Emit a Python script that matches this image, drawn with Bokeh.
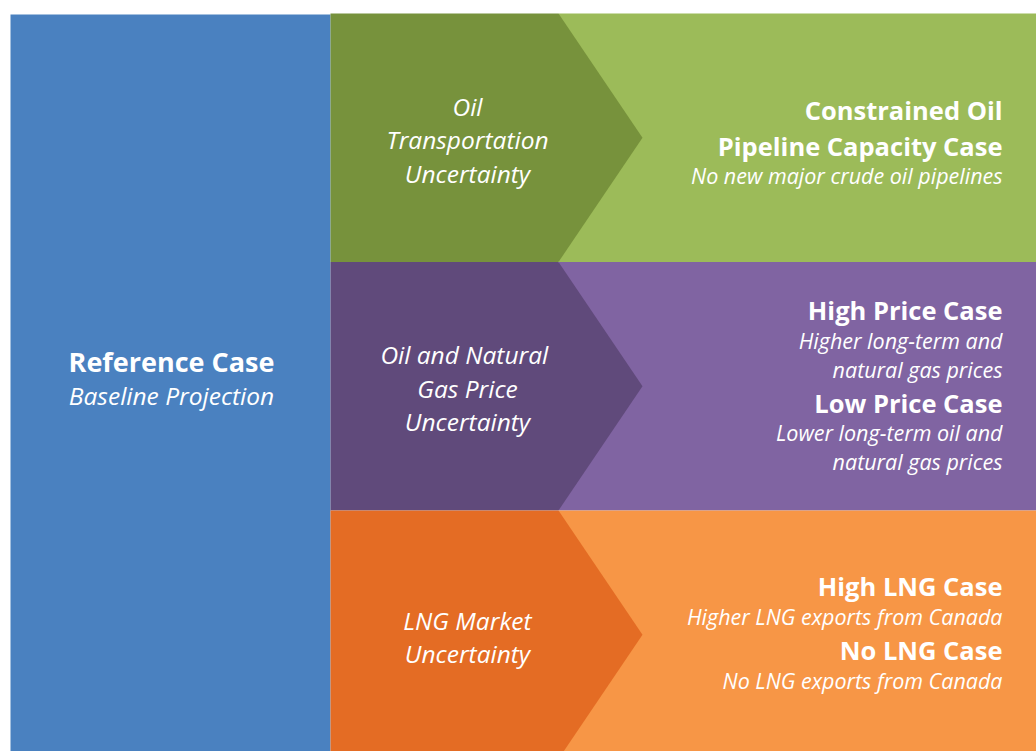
from bokeh.plotting import figure
from bokeh.models import Range1d
from bokeh.core.properties import value
from bokeh.embed import file_html
from bokeh.resources import INLINE

# ---- data ----
left_title = "Reference Case"
left_sub = "Baseline Projection"

uncertainties = [
    ["Oil", "Transportation", "Uncertainty"],
    ["Oil  and Natural", "Gas Price", "Uncertainty"],
    ["LNG Market", "Uncertainty"],
]

cases = [
    [("b", "Constrained Oil"), ("b", "Pipeline Capacity Case"), ("i", "No new major crude oil pipelines")],
    [("b", "High Price Case"), ("i", "Higher long-term and"), ("i", "natural gas prices"),
     ("b", "Low Price Case"), ("i", "Lower long-term oil and"), ("i", "natural gas prices")],
    [("b", "High LNG Case"), ("i", "Higher LNG exports from Canada"),
     ("b", "No LNG Case"), ("i", "No LNG exports from Canada")],
]

dark_colors = ["#77923C", "#604A7B", "#E46C24"]
light_colors = ["#9CBB59", "#8064A2", "#F79646"]
blue = "#4A81C0"

# ---- layout (pixel space) ----
W, H = 1036, 751
band_top = 13.0
band_h = 248.5
blue_x0, blue_x1, blue_y0 = 10, 330, 14
notch_x, tip_x = 558, 642
right_edge = 1040
text_right = 1002
mid_text_x = 467
left_text_x = 171

p = figure(width=W, height=H, output_backend="svg", toolbar_location=None,
           x_range=Range1d(0, W), y_range=Range1d(H, 0),
           min_border=0, outline_line_color=None, background_fill_color="white")
p.axis.visible = False
p.grid.visible = False

# left blue block
p.quad(left=[blue_x0], right=[blue_x1], top=[blue_y0], bottom=[band_top + 3 * band_h],
       fill_color=blue, line_color=None)

for i in range(3):
    top = band_top + i * band_h
    bot = top + band_h
    mid = top + band_h / 2
    p.quad(left=[notch_x], right=[right_edge], top=[top], bottom=[bot],
           fill_color=light_colors[i], line_color=None)
    p.patch([blue_x1, notch_x, tip_x, notch_x, blue_x1], [top, top, mid, bot, bot],
            fill_color=dark_colors[i], line_color=None)

    # middle text
    lines = uncertainties[i]
    lh = 33.5
    n = len(lines)
    ys = [mid + 2 + (k - (n - 1) / 2) * lh for k in range(n)]
    p.text(x=[mid_text_x] * n, y=ys, text=lines, text_color="white",
           text_font=value("Open Sans"), text_font_style="italic", text_font_size="24.5px",
           text_align="center", text_baseline="middle")

# right texts: centers measured per line
right_y = [
    [109, 145, 175],
    [309, 340, 369, 402, 432, 461],
    [585, 616, 649, 680],
]
for i in range(3):
    bx, by, bt, ix, iy, it = [], [], [], [], [], []
    for (kind, t), y in zip(cases[i], right_y[i]):
        if kind == "b":
            bx.append(text_right); by.append(y); bt.append(t)
        else:
            ix.append(text_right); iy.append(y); it.append(t)
    p.text(x=bx, y=by, text=bt, text_color="white", text_font=value("Open Sans"),
           text_font_style="bold", text_font_size="25.5px", text_align="right", text_baseline="middle")
    p.text(x=ix, y=iy, text=it, text_color="white", text_font=value("Open Sans"),
           text_font_style="italic", text_font_size="21.5px", text_align="right", text_baseline="middle")

p.text(x=[left_text_x], y=[361], text=[left_title], text_color="white", text_font=value("Open Sans"),
       text_font_style="bold", text_font_size="27px", text_align="center", text_baseline="middle")
p.text(x=[left_text_x], y=[395], text=[left_sub], text_color="white", text_font=value("Open Sans"),
       text_font_style="italic", text_font_size="24.5px", text_align="center", text_baseline="middle")

open("out.html", "w").write(file_html(p, INLINE))
